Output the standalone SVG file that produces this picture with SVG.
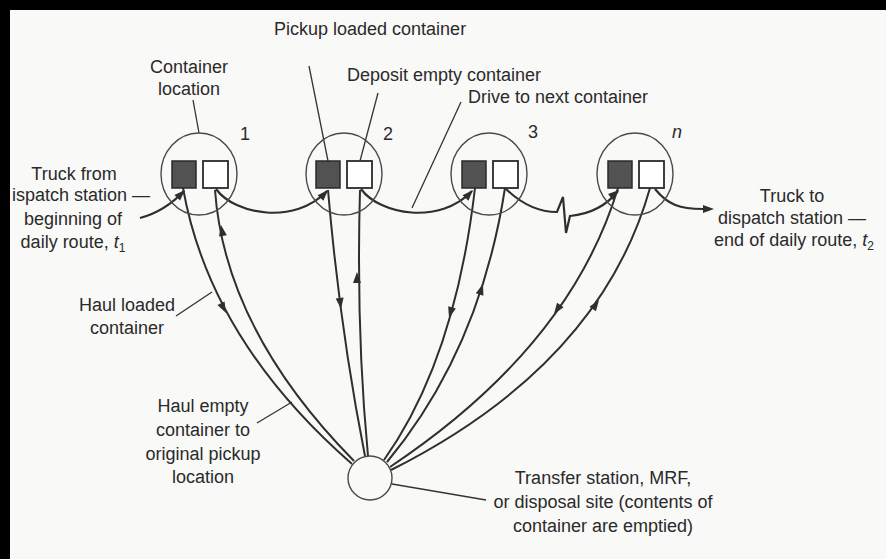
<svg xmlns="http://www.w3.org/2000/svg" width="886" height="559" viewBox="0 0 886 559">
<defs>
<style>
text{font-family:"Liberation Sans",Arial,sans-serif;font-size:18px;fill:#2a2a2a}
.m{text-anchor:middle}
.e{text-anchor:end}
.loc{fill:none;stroke:#4a4a4a;stroke-width:1.4}
.full{fill:#525252;stroke:#2a2a2a;stroke-width:1.5}
.empty{fill:#fff;stroke:#2a2a2a;stroke-width:1.8}
.route{fill:none;stroke:#2f2f2f;stroke-width:2.2;stroke-linejoin:miter}
.haul{fill:none;stroke:#2f2f2f;stroke-width:2}
.lead{fill:none;stroke:#333;stroke-width:1.3}
.ah{fill:#2f2f2f}
</style>
<path id="ah" d="M0,0 L-11,-4 L-11,4 Z"/>
</defs>
<rect width="886" height="559" fill="#f9f9f8"/>
<rect x="0" y="0" width="886" height="10" fill="#000"/>
<rect x="0" y="0" width="10" height="559" fill="#000"/>

<g id="connectors">
  <!-- truck route -->
  <path class="route" d="M140,218 C155,214 170,206 184,191"/>
  <path class="route" d="M216,189 C235,215 295,225 327,191"/>
  <path class="route" d="M361,189 C380,215 440,225 472,191"/>
  <path class="route" d="M506,189 Q530,212 557,212 L563,197 L566,233 L570,216 C590,214 607,205 618,191"/>
  <path class="route" d="M655,189 C668,205 680,209 703,209"/>
  <use href="#ah" class="ah" transform="translate(185,190) rotate(-45)"/>
  <use href="#ah" class="ah" transform="translate(328,190) rotate(-47)"/>
  <use href="#ah" class="ah" transform="translate(473,190) rotate(-47)"/>
  <use href="#ah" class="ah" transform="translate(619,190) rotate(-40)"/>
  <use href="#ah" class="ah" transform="translate(714,209) rotate(0)"/>
  <!-- hauls -->
  <path class="haul" d="M183,188 Q210,340 352,464"/>
  <path class="haul" d="M215,190 Q225,330 354,461"/>
  <path class="haul" d="M328,190 Q340,330 365,456"/>
  <path class="haul" d="M360,190 Q356,330 368,456"/>
  <path class="haul" d="M475,188 Q455,360 384,460"/>
  <path class="haul" d="M505,188 Q480,350 387,462"/>
  <path class="haul" d="M618,188 Q570,347 390,467"/>
  <path class="haul" d="M650,188 Q600,365 391,470"/>
  <use href="#ah" class="ah" transform="translate(226,313) rotate(63)"/>
  <use href="#ah" class="ah" transform="translate(221,225) rotate(-100)"/>
  <use href="#ah" class="ah" transform="translate(341,309) rotate(83)"/>
  <use href="#ah" class="ah" transform="translate(357,272) rotate(-90)"/>
  <use href="#ah" class="ah" transform="translate(449,318) rotate(106)"/>
  <use href="#ah" class="ah" transform="translate(483,284) rotate(-72)"/>
  <use href="#ah" class="ah" transform="translate(554,314) rotate(125)"/>
  <use href="#ah" class="ah" transform="translate(599,300) rotate(-55)"/>
  <!-- leaders -->
  <path class="lead" d="M193,100 L199,133"/>
  <path class="lead" d="M309,66 L328,161"/>
  <path class="lead" d="M378,93 L360,161"/>
  <path class="lead" d="M461,102 L412,208"/>
  <path class="lead" d="M176,316 L212,292"/>
  <path class="lead" d="M257,423 L292,402"/>
  <path class="lead" d="M392,484 L486,500"/>
</g>

<g id="loc1">
  <ellipse class="loc" cx="199" cy="174" rx="38" ry="41"/>
  <rect class="full" x="172" y="161" width="24" height="27"/>
  <rect class="empty" x="203" y="161" width="25" height="27"/>
  <text x="240" y="140">1</text>
</g>
<g id="loc2">
  <ellipse class="loc" cx="344" cy="174" rx="38" ry="41"/>
  <rect class="full" x="316" y="161" width="24" height="27"/>
  <rect class="empty" x="347" y="161" width="25" height="27"/>
  <text x="383" y="140">2</text>
</g>
<g id="loc3">
  <ellipse class="loc" cx="489" cy="174" rx="38" ry="41"/>
  <rect class="full" x="462" y="161" width="24" height="27"/>
  <rect class="empty" x="493" y="161" width="25" height="27"/>
  <text x="528" y="138">3</text>
</g>
<g id="locn">
  <ellipse class="loc" cx="635" cy="174" rx="38" ry="41"/>
  <rect class="full" x="608" y="161" width="24" height="27"/>
  <rect class="empty" x="639" y="161" width="25" height="27"/>
  <text x="672" y="138" font-style="italic">n</text>
</g>
<g id="site">
  <circle class="loc" cx="370" cy="478" r="22" fill="#fff"/>
</g>

<g id="labels">
  <text class="m" x="189" y="73">Container</text>
  <text class="m" x="189" y="95">location</text>
  <text x="274" y="35">Pickup loaded container</text>
  <text x="347" y="81">Deposit empty container</text>
  <text x="468" y="103">Drive to next container</text>
  <text class="m" x="74" y="180">Truck from</text>
  <text x="12" y="201">ispatch station —</text>
  <text class="m" x="73" y="225">beginning of</text>
  <text class="m" x="73" y="248">daily route, <tspan font-style="italic">t</tspan><tspan font-size="12" dy="4">1</tspan></text>
  <text class="m" x="792" y="202">Truck to</text>
  <text class="m" x="792" y="224">dispatch station —</text>
  <text class="m" x="794" y="246">end of daily route, <tspan font-style="italic">t</tspan><tspan font-size="12" dy="4">2</tspan></text>
  <text class="m" x="127" y="311">Haul loaded</text>
  <text class="m" x="127" y="334">container</text>
  <text class="m" x="203" y="412">Haul empty</text>
  <text class="m" x="203" y="436">container to</text>
  <text class="m" x="203" y="460">original pickup</text>
  <text class="m" x="203" y="483">location</text>
  <text class="m" x="603" y="484">Transfer station, MRF,</text>
  <text class="m" x="603" y="508">or disposal site (contents of</text>
  <text class="m" x="603" y="532">container are emptied)</text>
</g>
</svg>
